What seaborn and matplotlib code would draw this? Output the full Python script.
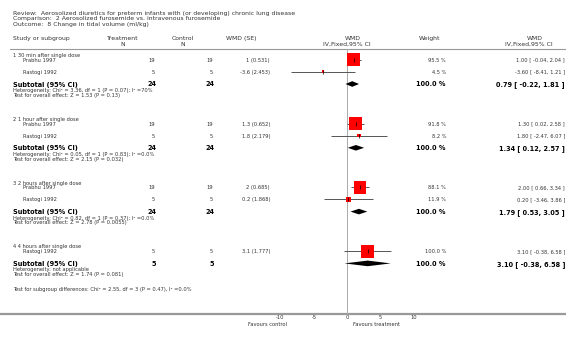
import numpy as np
import pandas as pd
import matplotlib
matplotlib.use('Agg')
import matplotlib.pyplot as plt
import seaborn as sns

# Datos del forest plot
review = 'Review:  Aerosolized diuretics for preterm infants with (or developing) chronic lung disease'
comparison = 'Comparison:  2 Aerosolized furosemide vs. intravenous furosemide'
outcome = 'Outcome:  8 Change in tidal volume (ml/kg)'

group_names = ['1 30 min after single dose', '2 1 hour after single dose',
               '3 2 hours after single dose', '4 4 hours after single dose']
study_group = [0, 0, 1, 1, 2, 2, 3]
study_names = ['Prabhu 1997', 'Rastogi 1992', 'Prabhu 1997', 'Rastogi 1992',
               'Prabhu 1997', 'Rastogi 1992', 'Rastogi 1992']
n_treat = [19, 5, 19, 5, 19, 5, 5]
n_ctrl = [19, 5, 19, 5, 19, 5, 5]
wmd_se = ['1 (0.531)', '-3.6 (2.453)', '1.3 (0.652)', '1.8 (2.179)',
          '2 (0.685)', '0.2 (1.868)', '3.1 (1.777)']
wmd = [1.00, -3.60, 1.30, 1.80, 2.00, 0.20, 3.10]
ci_lo = [-0.04, -8.41, 0.02, -2.47, 0.66, -3.46, -0.38]
ci_hi = [2.04, 1.21, 2.58, 6.07, 3.34, 3.86, 6.58]
weight = [95.5, 4.5, 91.8, 8.2, 88.1, 11.9, 100.0]

sub_n_treat = [24, 24, 24, 5]
sub_n_ctrl = [24, 24, 24, 5]
sub_est = [0.79, 1.34, 1.79, 3.10]
sub_lo = [-0.22, 0.12, 0.53, -0.38]
sub_hi = [1.81, 2.57, 3.05, 6.58]
sub_het = ['Heterogeneity: Chi\u00b2 = 3.36, df = 1 (P = 0.07); I\u00b2 =70%',
           'Heterogeneity: Chi\u00b2 = 0.05, df = 1 (P = 0.83); I\u00b2 =0.0%',
           'Heterogeneity: Chi\u00b2 = 0.82, df = 1 (P = 0.37); I\u00b2 =0.0%',
           'Heterogeneity: not applicable']
sub_test = ['Test for overall effect: Z = 1.53 (P = 0.13)',
            'Test for overall effect: Z = 2.15 (P = 0.032)',
            'Test for overall effect: Z = 2.78 (P = 0.0055)',
            'Test for overall effect: Z = 1.74 (P = 0.081)']
subgroup_diff = 'Test for subgroup differences: Chi\u00b2 = 2.55, df = 3 (P = 0.47), I\u00b2 =0.0%'
x_ticks = [-10, -5, 0, 5, 10]

# Estilo
sns.set_style('white')
plt.rcParams['font.family'] = ['DejaVu Sans']

fst = 4.45    # titulo
fs = 3.7      # texto normal
fsb = 4.7     # texto en negrita
gris = '#333333'
bl = 2.0      # desplazamiento a la linea base

fig = plt.figure(figsize=(5.66, 3.37), dpi=100)
bg = fig.add_axes([0, 0, 1, 1])
bg.set_xlim(0, 566)
bg.set_ylim(337, 0)
bg.axis('off')

ax = fig.add_axes([280.5 / 566, 0, 133 / 566, 1])
ax.set_xlim(-10, 10)
ax.set_ylim(337, 0)
ax.patch.set_alpha(0)


def txt(x, y, s, size=fs, ha='left', bold=False, color=gris):
    bg.text(x, y + bl, s, fontsize=size, color=color, ha=ha, va='baseline',
            fontweight='bold' if bold else 'normal')


# Encabezado
txt(13, 12.5, review, fst)
txt(13, 18.3, comparison, fst)
txt(13, 24, outcome, fst)

txt(13, 38.3, 'Study or subgroup', fst)
txt(123, 38.3, 'Treatment', fst, 'center')
txt(123, 44, 'N', fst, 'center')
txt(183, 38.3, 'Control', fst, 'center')
txt(183, 44, 'N', fst, 'center')
txt(226, 38.3, 'WMD (SE)', fst)
txt(353, 37.5, 'WMD', fst, 'center')
txt(347, 43.3, 'IV,Fixed,95% CI', fst, 'center')
txt(430, 38.3, 'Weight', fst, 'center')
txt(535, 37.5, 'WMD', fst, 'center')
txt(529, 43.3, 'IV,Fixed,95% CI', fst, 'center')
bg.plot([10, 566], [49, 49], color='#999999', lw=0.8)

# Posiciones de las filas
rows_y = []
sub_y = []
t = 55
for g in range(len(group_names)):
    txt(13, t, group_names[g])
    idx = [i for i in range(len(study_names)) if study_group[i] == g]
    for k, i in enumerate(idx):
        rows_y.append(t + 4.8 + 12 * k)
    sub_y.append(t + 5 + 12 * len(idx))
    t = t + 63.8

df = pd.DataFrame({'study': study_names, 'wmd': wmd, 'lo': ci_lo, 'hi': ci_hi,
                   'weight': weight, 'y': rows_y})

# Columnas de texto por estudio
for i in range(len(study_names)):
    y = rows_y[i]
    txt(23, y, study_names[i])
    txt(155, y, str(n_treat[i]), ha='right')
    txt(213, y, str(n_ctrl[i]), ha='right')
    txt(270, y, wmd_se[i], ha='right')
    txt(446, y, '%.1f %%' % weight[i], ha='right')
    txt(565, y, '%.2f [ %.2f, %.2f ]' % (wmd[i], ci_lo[i], ci_hi[i]), ha='right')

# Subtotales
for g in range(len(group_names)):
    y = sub_y[g]
    txt(13, y + 0.5, 'Subtotal (95% CI)', fsb, bold=True, color='black')
    txt(156, y + 0.5, str(sub_n_treat[g]), fsb, 'right', True, 'black')
    txt(214, y + 0.5, str(sub_n_ctrl[g]), fsb, 'right', True, 'black')
    txt(446, y + 0.5, '100.0 %', fsb, 'right', True, 'black')
    txt(565, y + 0.5, '%.2f [ %.2f, %.2f ]' % (sub_est[g], sub_lo[g], sub_hi[g]),
        fsb, 'right', True, 'black')
    txt(13, y + 6, sub_het[g])
    txt(13, y + 10.8, sub_test[g])
    # Diamante
    ax.fill([sub_lo[g], sub_est[g], sub_hi[g], sub_est[g]], [y, y - 2.8, y, y + 2.8],
            color='black', lw=0, zorder=4)

txt(13, sub_y[-1] + 26, subgroup_diff)

# Forest: linea vertical, IC y cuadrados
ax.plot([0, 0], [49, 314], color='#aaaaaa', lw=0.7, zorder=1)
ax.hlines(df['y'], df['lo'], df['hi'], color='#555555', lw=0.7, zorder=2)
sns.scatterplot(data=df, x='wmd', y='y', size='weight', size_norm=(0, 100),
                sizes=(0, (13.2 * 0.72) ** 2), marker='s', color='red',
                linewidth=0, legend=False, ax=ax, zorder=3)
ax.plot(df['wmd'], df['y'], linestyle='none', marker='|', color='black',
        ms=3, mew=0.5, zorder=4)

# Eje inferior
bg.plot([0, 566], [314, 314], color='#999999', lw=1.6)
for s in ['top', 'left', 'right', 'bottom']:
    ax.spines[s].set_visible(False)
ax.spines['bottom'].set_position(('data', 314))
ax.set_xticks(x_ticks)
ax.set_xticklabels([str(v) for v in x_ticks])
ax.set_yticks([])
ax.tick_params(axis='x', direction='in', length=2, width=0.5, pad=1,
               labelsize=fs, colors=gris)
ax.set_xlabel('')
ax.set_ylabel('')

txt(287, 323.5, 'Favours control', ha='right')
txt(353, 323.5, 'Favours treatment')

plt.savefig('out.png', dpi=100)
